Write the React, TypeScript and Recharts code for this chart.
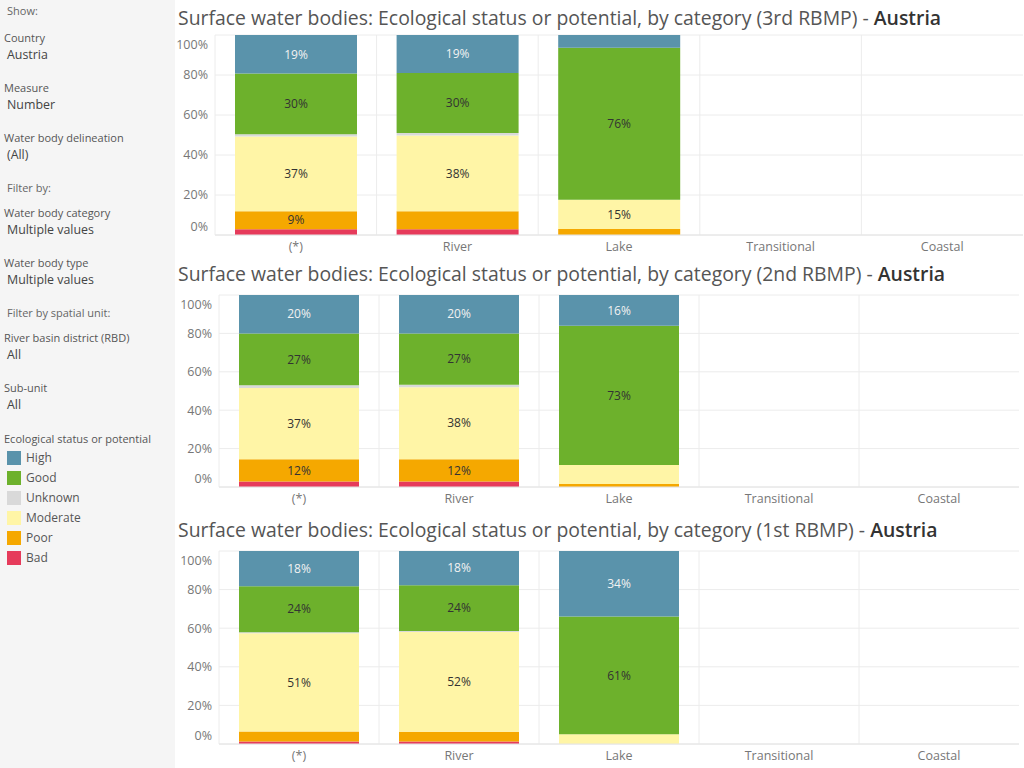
import React from "react";
import { BarChart, Bar, XAxis, YAxis, CartesianGrid, LabelList } from "recharts";

const FONT = "'Open Sans', Lato, sans-serif";

const categories = ["(*)", "River", "Lake", "Transitional", "Coastal"];
// stack order, bottom to top
const statuses = ["Bad", "Poor", "Moderate", "Unknown", "Good", "High"];
const legendOrder = ["High", "Good", "Unknown", "Moderate", "Poor", "Bad"];
const statusColors: Record<string, string> = {
  High: "#5a93ab",
  Good: "#6db12c",
  Unknown: "#d9d9d9",
  Moderate: "#fff5a6",
  Poor: "#f5a800",
  Bad: "#e63b5b",
};

// share of water bodies (%), per category: (*), River, Lake, Transitional, Coastal
// 3rd RBMP
const high3 = [19.3, 19.0, 6.4, null, null];
const good3 = [30.3, 30.0, 76.0, null, null];
const unknown3 = [1.2, 1.3, 0, null, null];
const moderate3 = [37.3, 37.8, 14.6, null, null];
const poor3 = [9.0, 9.0, 3.0, null, null];
const bad3 = [2.9, 2.9, 0, null, null];

// 2nd RBMP
const high2 = [20.0, 20.0, 16.0, null, null];
const good2 = [27.0, 26.8, 72.6, null, null];
const unknown2 = [1.5, 1.2, 0, null, null];
const moderate2 = [37.0, 37.6, 9.8, null, null];
const poor2 = [11.7, 11.6, 1.6, null, null];
const bad2 = [2.8, 2.8, 0, null, null];

// 1st RBMP
const high1 = [18.2, 17.7, 34.0, null, null];
const good1 = [23.9, 23.8, 61.0, null, null];
const unknown1 = [0.5, 0.5, 0, null, null];
const moderate1 = [50.9, 51.6, 5.0, null, null];
const poor1 = [5.2, 5.1, 0, null, null];
const bad1 = [1.3, 1.3, 0, null, null];

const yTicks = [0, 20, 40, 60, 80, 100];

// segments smaller than this are left unlabelled
const MIN_LABEL = 11;
const extraLabels3 = ["(*):Poor"];

type Series = Record<string, (number | null)[]>;

const plan3: Series = { High: high3, Good: good3, Unknown: unknown3, Moderate: moderate3, Poor: poor3, Bad: bad3 };
const plan2: Series = { High: high2, Good: good2, Unknown: unknown2, Moderate: moderate2, Poor: poor2, Bad: bad2 };
const plan1: Series = { High: high1, Good: good1, Unknown: unknown1, Moderate: moderate1, Poor: poor1, Bad: bad1 };

const buildRows = (series: Series) =>
  categories.map((category, i) => {
    const row: Record<string, string | number | null> = { category };
    statuses.forEach((s) => {
      row[s] = series[s][i];
    });
    return row;
  });

const YTick = (props: any) => {
  const { x, y, payload } = props;
  const shift = payload.value === 100 ? 10 : payload.value === 0 ? -8 : 0;
  return (
    <text x={x + 1} y={y + shift} dy="0.35em" textAnchor="end" fill="#777" fontSize={12.5} fontFamily={FONT}>
      {payload.value}%
    </text>
  );
};

interface PlanChartProps {
  title: string;
  series: Series;
  top: number;
  titleY: number;
  plotTop: number;
  plotBottom: number;
  plotLeft: number;
  plotRight: number;
  barSize: number;
  extraLabels?: string[];
}

const PlanChart = ({ title, series, top, titleY, plotTop, plotBottom, plotLeft, plotRight, barSize, extraLabels = [] }: PlanChartProps) => {
  const chartLeft = 175;
  const width = 1024 - chartLeft;
  const xAxisHeight = 21;
  const height = plotBottom - top + xAxisHeight;

  const segmentLabel = (status: string) => (props: any) => {
    const { x, y, width: w, height: h, index } = props;
    const value = series[status][index];
    if (value == null || value <= 0) return null;
    const key = `${categories[index]}:${status}`;
    if (value < MIN_LABEL && !extraLabels.includes(key)) return null;
    return (
      <text
        x={x + w / 2}
        y={y + h / 2}
        dy="0.35em"
        textAnchor="middle"
        fontSize={12}
        fontFamily={FONT}
        fill={status === "High" ? "#f2f2f2" : "#333"}
      >
        {Math.round(value)}%
      </text>
    );
  };

  return (
    <div style={{ position: "absolute", left: chartLeft, top, width, height }}>
      <div
        style={{
          position: "absolute",
          left: 3,
          top: titleY - top - 12,
          height: 24,
          lineHeight: "24px",
          fontSize: 19.4,
          fontFamily: FONT,
          color: "#555",
          whiteSpace: "nowrap",
        }}
      >
        {title} - <span style={{ color: "#333", fontWeight: 600 }}>Austria</span>
      </div>
      <BarChart
        width={width}
        height={height}
        data={buildRows(series)}
        margin={{ top: plotTop - top, right: 1024 - plotRight, bottom: 0, left: 0 }}
        barSize={barSize}
      >
        <CartesianGrid
          stroke="#ececec"
          verticalCoordinatesGenerator={({ offset }: any) =>
            categories.map((_, i) => offset.left + (i * offset.width) / categories.length)
          }
        />
        <XAxis
          dataKey="category"
          interval={0}
          height={xAxisHeight}
          tickLine={false}
          tickSize={0}
          tickMargin={7}
          axisLine={{ stroke: "#e4e4e4" }}
          tick={{ fontSize: 12.5, fill: "#777", fontFamily: FONT }}
        />
        <YAxis
          domain={[0, 100]}
          ticks={yTicks}
          width={plotLeft - chartLeft}
          axisLine={false}
          tickLine={false}
          tick={<YTick />}
        />
        {statuses.map((s) => (
          <Bar key={s} dataKey={s} stackId="a" fill={statusColors[s]} isAnimationActive={false}>
            <LabelList dataKey={s} content={segmentLabel(s)} />
          </Bar>
        ))}
      </BarChart>
    </div>
  );
};

const sidebarItems: { text: string; y: number; kind: "head" | "label" | "value" }[] = [
  { text: "Show:", y: 11, kind: "head" },
  { text: "Country", y: 38, kind: "label" },
  { text: "Austria", y: 55, kind: "value" },
  { text: "Measure", y: 88, kind: "label" },
  { text: "Number", y: 105, kind: "value" },
  { text: "Water body delineation", y: 138, kind: "label" },
  { text: "(All)", y: 155, kind: "value" },
  { text: "Filter by:", y: 188, kind: "head" },
  { text: "Water body category", y: 213, kind: "label" },
  { text: "Multiple values", y: 230, kind: "value" },
  { text: "Water body type", y: 263, kind: "label" },
  { text: "Multiple values", y: 280, kind: "value" },
  { text: "Filter by spatial unit:", y: 313, kind: "head" },
  { text: "River basin district (RBD)", y: 338, kind: "label" },
  { text: "All", y: 355, kind: "value" },
  { text: "Sub-unit", y: 388, kind: "label" },
  { text: "All", y: 405, kind: "value" },
  { text: "Ecological status or potential", y: 439, kind: "label" },
];

const Sidebar = () => (
  <div style={{ position: "absolute", left: 0, top: 0, width: 175, height: 768, background: "#f5f5f5" }}>
    {sidebarItems.map((item, i) => (
      <div
        key={i}
        style={{
          position: "absolute",
          left: item.kind === "label" ? 4 : 7,
          top: item.y - 8,
          height: 16,
          lineHeight: "16px",
          fontFamily: FONT,
          fontSize: item.kind === "value" ? 12.4 : 11,
          color: item.kind === "value" ? "#444" : item.kind === "head" ? "#666" : "#555",
          whiteSpace: "nowrap",
        }}
      >
        {item.text}
      </div>
    ))}
    {legendOrder.map((s, i) => (
      <div key={s} style={{ position: "absolute", left: 7, top: 451 + i * 20, height: 14, display: "flex", alignItems: "center" }}>
        <div style={{ width: 14, height: 14, background: statusColors[s] }} />
        <span style={{ marginLeft: 5, fontFamily: FONT, fontSize: 12, color: "#555", lineHeight: "14px" }}>{s}</span>
      </div>
    ))}
  </div>
);

export default function App() {
  return (
    <div style={{ position: "absolute", left: 0, top: 0, width: 1024, height: 768, background: "#fff", overflow: "hidden" }}>
      <Sidebar />
      <PlanChart
        title="Surface water bodies: Ecological status or potential, by category (3rd RBMP)"
        series={plan3}
        top={0}
        titleY={18}
        plotTop={35}
        plotBottom={235}
        plotLeft={215}
        plotRight={1023}
        barSize={122}
        extraLabels={extraLabels3}
      />
      <PlanChart
        title="Surface water bodies: Ecological status or potential, by category (2nd RBMP)"
        series={plan2}
        top={256}
        titleY={274}
        plotTop={295}
        plotBottom={487}
        plotLeft={219}
        plotRight={1019}
        barSize={120}
      />
      <PlanChart
        title="Surface water bodies: Ecological status or potential, by category (1st RBMP)"
        series={plan1}
        top={512}
        titleY={530}
        plotTop={551}
        plotBottom={744}
        plotLeft={219}
        plotRight={1019}
        barSize={120}
      />
    </div>
  );
}
